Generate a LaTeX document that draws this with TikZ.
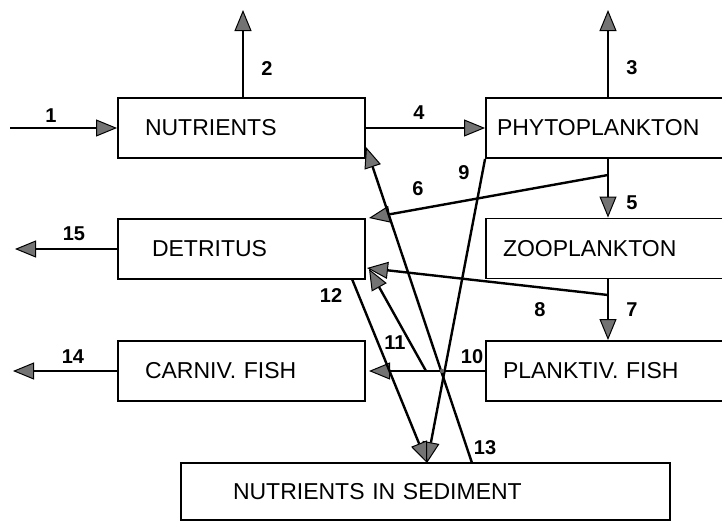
\documentclass[tikz,border=0pt]{standalone}
\usepackage{fontspec}
\setmainfont{Liberation Sans}
\usetikzlibrary{arrows.meta,calc}
\begin{document}
\begin{tikzpicture}[x=1pt,y=-1pt,
  box/.style={draw,line width=1.9pt,rectangle,minimum height=60pt,inner ysep=0pt,align=left,font=\fontsize{23}{27}\selectfont},
  num/.style={font=\fontsize{20}{22}\selectfont\bfseries,inner sep=0pt},
  tip/.style={-{Triangle[length=21pt,width=17pt,fill=black!55,line width=1pt]}},
  lthin/.style={line width=1.4pt},
  lmid/.style={line width=1.9pt},
  lthick/.style={line width=2.4pt}]
\clip (0,0) rectangle (722,522);
% boxes
\node[box,text width=193pt,inner xsep=27pt] (nut) at (241.5,128) {NUTRIENTS};
\node[box,text width=232pt,inner xsep=11pt] (phy) at (613,128) {PHYTOPLANKTON};
\node[box,text width=179pt,inner xsep=34pt] (det) at (241.5,249) {DETRITUS};
\node[box,text width=220pt,inner xsep=17pt] (zoo) at (613,248.5) {ZOOPLANKTON};
\node[box,text width=193pt,inner xsep=27pt] (car) at (241.5,371) {CARNIV. FISH};
\node[box,text width=220pt,inner xsep=17pt] (pla) at (613,371) {PLANKTIV. FISH};
\node[box,text width=385pt,inner xsep=52pt,minimum height=57pt] (sed) at (425.5,491.5) {NUTRIENTS IN SEDIMENT};
% coordinates
\coordinate (in1) at (10,128);
\coordinate (o2) at (243,10);
\coordinate (o3) at (608,10);
\coordinate (j5) at (608,175);
\coordinate (t6) at (369,218);
\coordinate (j7) at (608,295);
\coordinate (t8) at (367,268);
\coordinate (s9) at (427,463);
\coordinate (t10) at (369,371);
\coordinate (j10) at (442,371);
\coordinate (a11) at (426,371);
\coordinate (t11) at (369,269);
\coordinate (a12) at (352,279);
\coordinate (a13) at (472,463);
\coordinate (t13) at (366,147);
\coordinate (o14) at (13,371);
\coordinate (o15) at (15,249);
% connectors
\draw[lthin,tip] (in1) -- (nut.west);
\draw[lmid,tip] (o2 |- nut.north) -- (o2);
\draw[lthin,tip] (nut.east) -- (phy.west);
\draw[lmid,tip] (o3 |- phy.north) -- (o3);
\draw[lmid,tip] (o3 |- phy.south) -- (o3 |- zoo.north);
\draw[lthick,tip] (j5) -- (t6);
\draw[lmid,tip] (o3 |- zoo.south) -- (o3 |- pla.north);
\draw[lthick,tip] (j7) -- (t8);
\draw[lthick,tip] (phy.south west) -- (s9);
\draw[lthin,tip] (pla.west) -- (t10);
\draw[lthick,tip] (a11) -- (t11);
\draw[lthick,tip] (a12) -- (s9);
\draw[lthick,tip] (a13) -- (t13);
\draw[lthin,tip] (car.west) -- (o14);
\draw[lthin,tip] (det.west) -- (o15);
\fill[black!60] (j10) circle (2.2);
% labels
\node[num] (l1) at (51,116) {1};
\node[num] (l2) at (267,69) {2};
\node[num] (l3) at (632,68) {3};
\node[num] (l4) at (419,113) {4};
\node[num] (l5) at (632,203) {5};
\node[num] (l6) at (418,189) {6};
\node[num] (l7) at (632,310) {7};
\node[num] (l8) at (540,310) {8};
\node[num] (l9) at (464,173) {9};
\node[num] (l10) at (472,357) {10};
\node[num] (l11) at (395,343) {11};
\node[num] (l12) at (331,296) {12};
\node[num] (l13) at (485,448) {13};
\node[num] (l14) at (73,357) {14};
\node[num] (l15) at (74,234) {15};
\end{tikzpicture}
\end{document}
